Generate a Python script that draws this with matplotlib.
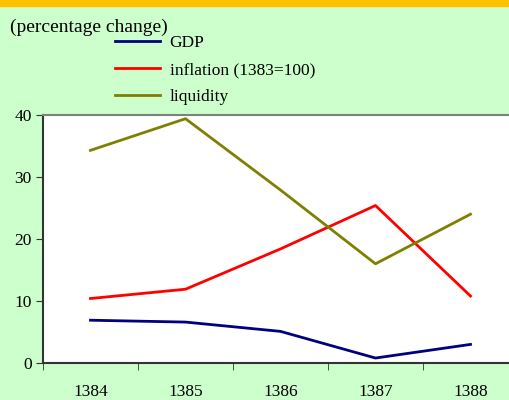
import matplotlib.pyplot as plt
from matplotlib.patches import Rectangle

years = ['1384', '1385', '1386', '1387', '1388']
gdp = [6.9, 6.6, 5.1, 0.8, 3.0]
inflation = [10.4, 11.9, 18.4, 25.4, 10.8]
liquidity = [34.3, 39.4, 27.9, 16.0, 24.0]

plt.rcParams['font.family'] = 'Liberation Serif'
plt.rcParams['font.size'] = 12.5

fig = plt.figure(figsize=(5.09, 4.0), dpi=100, facecolor='#CCFFCC')
# orange strip across the top
fig.patches.append(Rectangle((0, 1 - 6 / 400), 1, 6 / 400, transform=fig.transFigure,
                             color='#FFC000', zorder=0))

# axes runs a bit past the right edge, like the original
ax = fig.add_axes([43 / 509, 37 / 400, 475 / 509, 248 / 400])
ax.set_facecolor('white')

x = range(len(years))
l1, = ax.plot(x, gdp, color='#000080', lw=2, label='GDP')
l2, = ax.plot(x, inflation, color='#FF0000', lw=2, label='inflation (1383=100)')
l3, = ax.plot(x, liquidity, color='#808000', lw=2, label='liquidity')

ax.set_xlim(-0.5, len(years) - 0.5)
ax.set_ylim(0, 40)
ax.set_yticks([0, 10, 20, 30, 40])
ax.set_xticks(list(x))
ax.set_xticklabels(years)
ax.set_xticks([i - 0.5 for i in range(len(years) + 1)], minor=True)
ax.tick_params(axis='x', which='major', length=0, pad=15)
ax.tick_params(axis='x', which='minor', length=5, direction='out', color='#333333')
ax.tick_params(axis='y', length=5, direction='out', color='#333333', pad=3)

ax.spines['top'].set_color('#808080')
ax.spines['top'].set_linewidth(1.5)
ax.spines['right'].set_visible(False)
ax.spines['left'].set_color('#333333')
ax.spines['left'].set_linewidth(1.5)
ax.spines['bottom'].set_color('#333333')
ax.spines['bottom'].set_linewidth(1.5)

fig.text(10 / 509, 1 - 27 / 400, '(percentage change)', fontsize=14, va='center')

fig.legend(handles=[l1, l2, l3], loc='upper left',
           bbox_to_anchor=(115 / 509, 1 - 35 / 400), frameon=False,
           handlelength=2.6, handletextpad=0.55, labelspacing=0.62,
           borderpad=0, borderaxespad=0)

fig.savefig('out.png', dpi=100, facecolor=fig.get_facecolor())
